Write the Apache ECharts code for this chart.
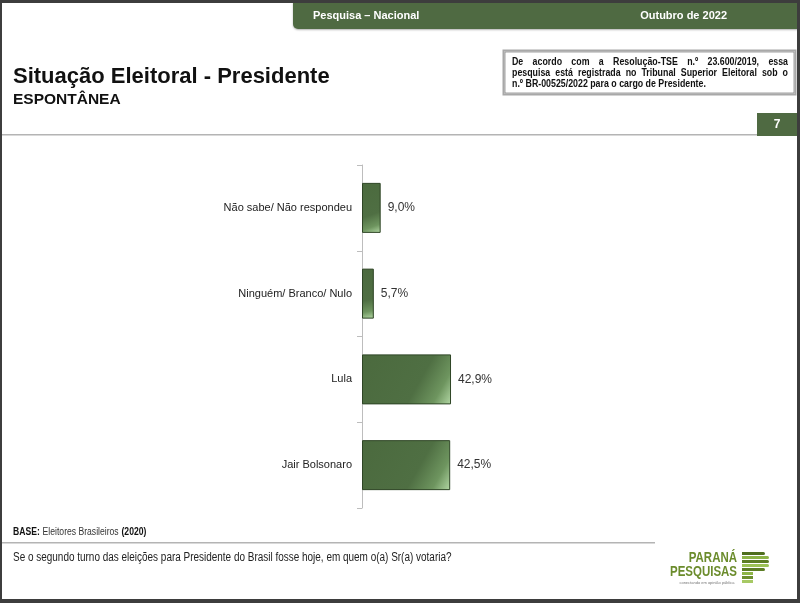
<!DOCTYPE html>
<html>
<head>
<meta charset="utf-8">
<script src="https://cdn.jsdelivr.net/npm/echarts@6/dist/echarts.min.js"></script>
<style>
html,body{margin:0;padding:0;background:#fff;}
#c{width:800px;height:603px;}
</style>
</head>
<body>
<div id="c"></div>
<script>
const categories = ['Não sabe/ Não respondeu', 'Ninguém/ Branco/ Nulo', 'Lula', 'Jair Bolsonaro'];
const values = [9.0, 5.7, 42.9, 42.5];

const SANS = "'Liberation Sans',Arial,Helvetica,sans-serif";
const GREEN = '#4f6a42';

const chart = echarts.init(document.getElementById('c'));

const mctx = document.createElement('canvas').getContext('2d');
function justify(line, x0, x1, y, size, family, sx) {
  mctx.font = 'bold ' + size + 'px ' + family;
  const words = line.split(' ');
  const widths = words.map(w => mctx.measureText(w).width * sx);
  const total = widths.reduce((a, b) => a + b, 0);
  const gap = (x1 - x0 - total) / (words.length - 1);
  const out = [];
  let x = x0;
  words.forEach((w, i) => {
    out.push({type: 'text', x: x, y: y, scaleX: sx, style: {text: w, fill: '#111', font: 'bold ' + size + 'px ' + family, textVerticalAlign: 'middle'}});
    x += widths[i] + gap;
  });
  return out;
}

const graphics = [
  // header bar
  {type: 'rect', shape: {x: 293, y: 2, width: 505, height: 27, r: [0, 0, 0, 5]}, style: {fill: GREEN, shadowColor: 'rgba(0,0,0,0.3)', shadowBlur: 2, shadowOffsetY: 1}},
  {type: 'text', x: 313, y: 16, style: {text: 'Pesquisa – Nacional', fill: '#fff', font: 'bold 11px ' + SANS, textVerticalAlign: 'middle'}},
  {type: 'text', x: 727, y: 16, style: {text: 'Outubro de 2022', fill: '#fff', font: 'bold 11px ' + SANS, textAlign: 'right', textVerticalAlign: 'middle'}},
  // title
  {type: 'text', x: 13, y: 77, style: {text: 'Situação Eleitoral - Presidente', fill: '#111', font: 'bold 22px ' + SANS, textVerticalAlign: 'middle'}},
  {type: 'text', x: 13, y: 100, style: {text: 'ESPONTÂNEA', fill: '#111', font: 'bold 15.5px ' + SANS, textVerticalAlign: 'middle'}},
  // note box
  {type: 'rect', shape: {x: 503.5, y: 50.5, width: 292, height: 44}, style: {fill: '#fff', stroke: '#a8a8a8', lineWidth: 2}},
  {type: 'rect', shape: {x: 505, y: 52, width: 289, height: 41}, style: {fill: 'none', stroke: '#7a7a7a', lineWidth: 0.7}},
  {type: 'text', x: 512, y: 84, scaleX: 0.84, style: {text: 'n.º BR-00525/2022 para o cargo de Presidente.', fill: '#111', font: 'bold 10.5px ' + SANS, textVerticalAlign: 'middle'}},
  // separator and page number
  {type: 'rect', shape: {x: 2, y: 134, width: 756, height: 1.5}, style: {fill: '#b4b4b4'}},
  {type: 'rect', shape: {x: 757, y: 113, width: 41, height: 23}, style: {fill: GREEN}},
  {type: 'text', x: 777, y: 125, style: {text: '7', fill: '#fff', font: 'bold 12px ' + SANS, textAlign: 'center', textVerticalAlign: 'middle'}},
  // footer
  {type: 'text', x: 13, y: 532, scaleX: 0.86, style: {rich: {b: {font: 'bold 10px ' + SANS, fill: '#111'}, n: {font: '10px ' + SANS, fill: '#333'}}, text: '{b|BASE:} {n|Eleitores Brasileiros} {b|(2020)}', textVerticalAlign: 'middle'}},
  {type: 'rect', shape: {x: 2, y: 542, width: 653, height: 1.5}, style: {fill: '#b4b4b4'}},
  {type: 'text', x: 13, y: 558, scaleX: 0.83, style: {text: 'Se o segundo turno das eleições para Presidente do Brasil fosse hoje, em quem o(a) Sr(a) votaria?', fill: '#222', font: '12px ' + SANS, textVerticalAlign: 'middle'}},
  // logo
  {type: 'text', x: 737, y: 558, scaleX: 0.82, style: {text: 'PARANÁ', fill: '#6b8c2c', font: 'bold 14px ' + SANS, textAlign: 'right', textVerticalAlign: 'middle'}},
  {type: 'text', x: 737, y: 572, scaleX: 0.82, style: {text: 'PESQUISAS', fill: '#6b8c2c', font: 'bold 14px ' + SANS, textAlign: 'right', textVerticalAlign: 'middle'}},
  {type: 'text', x: 707, y: 583, style: {text: 'conectando em opinião pública', fill: '#777', font: '4px ' + SANS, textAlign: 'center', textVerticalAlign: 'middle'}},
  // frame
  {type: 'rect', shape: {x: 0, y: 0, width: 800, height: 3}, style: {fill: '#3d3d3d'}},
  {type: 'rect', shape: {x: 0, y: 599, width: 800, height: 4}, style: {fill: '#3d3d3d'}},
  {type: 'rect', shape: {x: 0, y: 0, width: 2, height: 603}, style: {fill: '#3d3d3d'}},
  {type: 'rect', shape: {x: 797, y: 0, width: 3, height: 603}, style: {fill: '#3d3d3d'}}
];

// logo stripes (P shape)
const stripeCols = ['#4f6e1e', '#8db447', '#5c7d24', '#9cc255', '#5c7d24', '#8db447', '#6d8f2e', '#a7c964'];
for (let i = 0; i < 8; i++) {
  const y = 552 + i * 4;
  const w = i < 5 ? (i === 0 || i === 4 ? 23 : 27) : 11;
  graphics.push({type: 'rect', shape: {x: 742, y: y, width: w, height: 3, r: i < 5 ? [0, 1.5, 1.5, 0] : 0}, style: {fill: stripeCols[i]}});
}

graphics.push(...justify('De acordo com a Resolução-TSE n.º 23.600/2019, essa', 512, 788, 62, 10.5, SANS, 0.84));
graphics.push(...justify('pesquisa está registrada no Tribunal Superior Eleitoral sob o', 512, 788, 73, 10.5, SANS, 0.84));

const barColor = new echarts.graphic.LinearGradient(0, 0, 1, 1, [
  {offset: 0, color: '#4b6a3e'},
  {offset: 0.62, color: '#4f6f43'},
  {offset: 0.84, color: '#6e955f'},
  {offset: 1, color: '#b4d9a6'}
]);

chart.setOption({
  animation: false,
  backgroundColor: '#fff',
  grid: {left: 362, top: 165, width: 207.5, height: 343, containLabel: false},
  xAxis: {type: 'value', min: 0, max: 100, show: false},
  yAxis: {
    type: 'category',
    inverse: true,
    data: categories,
    axisLine: {show: true, lineStyle: {color: '#bdbdbd', width: 1}},
    axisTick: {show: true, length: 5, lineStyle: {color: '#bdbdbd'}},
    axisLabel: {color: '#222', fontSize: 11, fontFamily: SANS, margin: 10}
  },
  series: [{
    type: 'bar',
    data: values,
    barWidth: 50,
    itemStyle: {color: barColor, borderColor: '#2e4525', borderWidth: 1},
    label: {
      show: true, position: 'right', distance: 7,
      color: '#333', fontSize: 12, fontFamily: SANS,
      formatter: p => p.value.toFixed(1).replace('.', ',') + '%'
    }
  }],
  graphic: graphics
});
</script>
</body>
</html>
